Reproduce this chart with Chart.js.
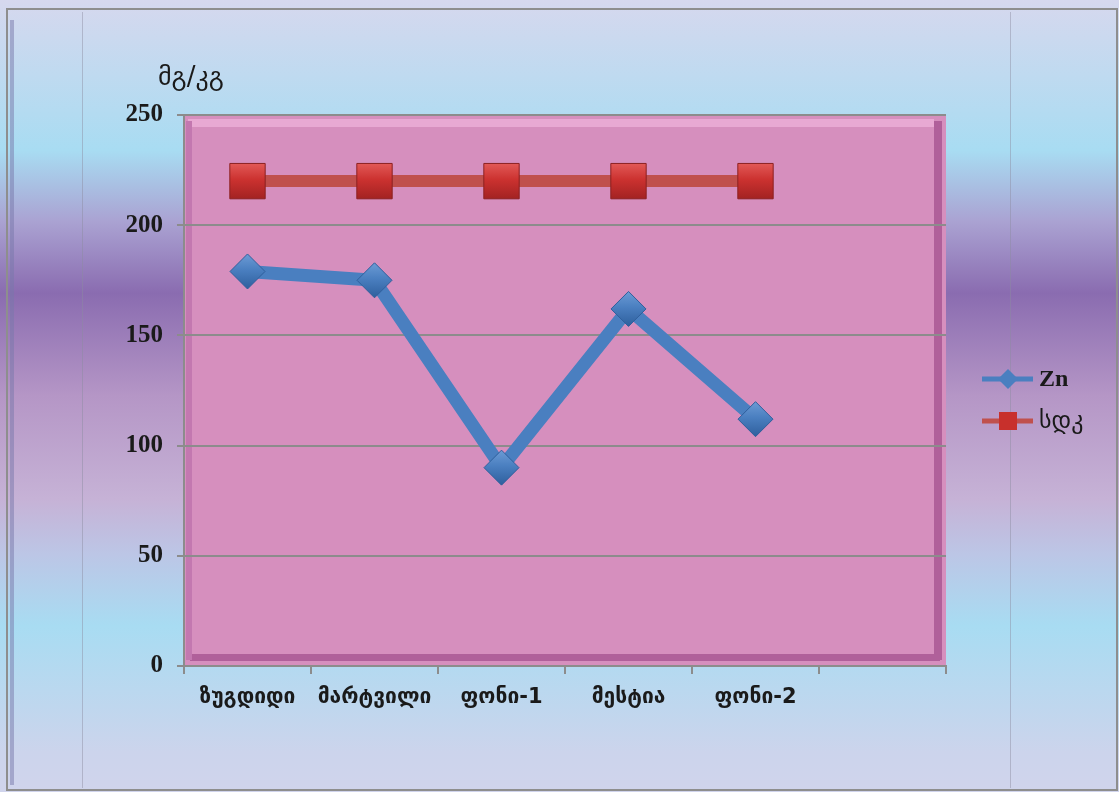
<!DOCTYPE html>
<html>
<head>
<meta charset="utf-8">
<script src="https://cdn.jsdelivr.net/npm/chart.js@4"></script>
<style>
  html, body { margin: 0; padding: 0; background: #fff; }
  #wrap { width: 1119px; height: 792px; position: relative; }
</style>
</head>
<body>
<div id="wrap"><canvas id="zincChart" width="1119" height="792"></canvas></div>
<script>
// data
const categories = ["ზუგდიდი", "მარტვილი", "ფონი-1", "მესტია", "ფონი-2", ""];
const znValues = [179, 175, 90, 162, 112, null];
const sdkValues = [220, 220, 220, 220, 220, null];
const yTicks = [0, 50, 100, 150, 200, 250];
const yUnit = "მგ/კგ";

const BLUE = "#4a7fc0";
const RED = "#c0504d";

// glossy fill for a marker, built from its pixel position on the y scale
function markerFill(light, mid, dark, half) {
  return ctx => {
    const chart = ctx.chart;
    const ys = chart.scales && chart.scales.y;
    if (!ys || ctx.raw == null || !isFinite(ys.getPixelForValue(ctx.raw))) return mid;
    const py = ys.getPixelForValue(ctx.raw);
    const g = chart.ctx.createLinearGradient(0, py - half, 0, py + half);
    g.addColorStop(0, light);
    g.addColorStop(0.45, mid);
    g.addColorStop(1, dark);
    return g;
  };
}

// background, frame and plot area
const backdrop = {
  id: "backdrop",
  beforeDraw(chart) {
    const { ctx, chartArea: a, width, height } = chart;
    ctx.save();
    const g = ctx.createLinearGradient(0, 0, 0, height);
    g.addColorStop(0, "#d6d8ee");
    g.addColorStop(0.19, "#a8dcf2");
    g.addColorStop(0.28, "#aaa2d2");
    g.addColorStop(0.37, "#8a6cb0");
    g.addColorStop(0.5, "#b596c6");
    g.addColorStop(0.63, "#c6b2d6");
    g.addColorStop(0.7, "#bcc6e6");
    g.addColorStop(0.79, "#a8dcf2");
    g.addColorStop(0.95, "#ccd4ec");
    g.addColorStop(1, "#d0d4ec");
    ctx.fillStyle = g;
    ctx.fillRect(0, 0, width, height);

    // faint vertical lines
    ctx.strokeStyle = "rgba(140,140,160,0.45)";
    ctx.lineWidth = 1;
    [82, 1010].forEach(x => {
      ctx.beginPath(); ctx.moveTo(x + 0.5, 12); ctx.lineTo(x + 0.5, 788); ctx.stroke();
    });

    // outer frame
    ctx.strokeStyle = "#8e8e8e";
    ctx.lineWidth = 2;
    ctx.strokeRect(7, 9, 1110, 781);
    ctx.strokeStyle = "rgba(120,120,170,0.5)";
    ctx.lineWidth = 4;
    ctx.beginPath(); ctx.moveTo(12, 20); ctx.lineTo(12, 785); ctx.stroke();

    // plot area
    ctx.fillStyle = "#d68fbe";
    ctx.fillRect(a.left, a.top, a.right - a.left, a.bottom - a.top);
    ctx.fillStyle = "rgba(240,180,220,0.7)";
    ctx.fillRect(a.left + 4, a.top + 4, a.right - a.left - 16, 8);
    ctx.fillStyle = "#b0609a";
    ctx.fillRect(a.right - 12, a.top + 6, 8, a.bottom - a.top - 12);
    ctx.fillRect(a.left + 6, a.bottom - 12, a.right - a.left - 12, 7);
    ctx.fillStyle = "#c378b0";
    ctx.fillRect(a.left + 2, a.top + 6, 6, a.bottom - a.top - 12);
    ctx.restore();
  },
  afterDraw(chart) {
    const { ctx } = chart;
    ctx.save();
    // unit label
    ctx.fillStyle = "#1a1a1a";
    ctx.font = "26px 'DejaVu Sans'";
    ctx.textBaseline = "alphabetic";
    ctx.fillText(yUnit, 158, 85);

    // legend
    const items = [
      { label: "Zn", color: BLUE, style: "diamond", y: 379, font: "bold 24px 'Liberation Serif'" },
      { label: "სდკ", color: RED, style: "square", y: 421, font: "24px 'DejaVu Sans'" }
    ];
    items.forEach(it => {
      ctx.strokeStyle = it.color;
      ctx.lineWidth = 5;
      ctx.beginPath(); ctx.moveTo(982, it.y); ctx.lineTo(1033, it.y); ctx.stroke();
      ctx.fillStyle = it.style === "diamond" ? BLUE : "#c8302c";
      ctx.beginPath();
      if (it.style === "diamond") {
        ctx.moveTo(1008, it.y - 10); ctx.lineTo(1018, it.y); ctx.lineTo(1008, it.y + 10); ctx.lineTo(998, it.y);
      } else {
        ctx.rect(999, it.y - 9, 18, 18);
      }
      ctx.closePath(); ctx.fill();
      ctx.fillStyle = "#1a1a1a";
      ctx.font = it.font;
      ctx.textBaseline = "middle";
      ctx.fillText(it.label, 1039, it.y + 1);
    });
    ctx.restore();
  }
};

new Chart(document.getElementById("zincChart"), {
  type: "line",
  data: {
    labels: categories,
    datasets: [
      {
        label: "Zn",
        data: znValues,
        borderColor: BLUE,
        borderWidth: 13,
        backgroundColor: BLUE,
        pointStyle: "rectRot",
        pointRadius: 17.5,
        pointBackgroundColor: markerFill("#6b9ad4", "#4a7fc0", "#2f609e", 17),
        pointBorderColor: "#2f5f9c",
        pointBorderWidth: 1,
        tension: 0
      },
      {
        label: "სდკ",
        data: sdkValues,
        borderColor: RED,
        borderWidth: 12,
        backgroundColor: RED,
        pointStyle: "rect",
        pointRadius: 25,
        pointBackgroundColor: markerFill("#e25a58", "#cc3230", "#a22222", 18),
        pointBorderColor: "#8c2020",
        pointBorderWidth: 1,
        tension: 0
      }
    ]
  },
  options: {
    responsive: false,
    animation: false,
    layout: { padding: { left: 0, top: 115, right: 173, bottom: 0 } },
    plugins: { legend: { display: false }, tooltip: { enabled: false } },
    scales: {
      x: {
        offset: true,
        grid: { offset: true, drawOnChartArea: false, color: "#8c8c8c", lineWidth: 2, tickLength: 8 },
        border: { color: "#8c8c8c", width: 2 },
        ticks: { color: "#1a1a1a", font: { family: "DejaVu Sans", size: 21, weight: "bold" }, padding: 11, maxRotation: 0, autoSkip: false },
        afterFit: s => { s.height = 126; }
      },
      y: {
        min: yTicks[0],
        max: yTicks[yTicks.length - 1],
        afterBuildTicks: s => { s.ticks = yTicks.map(v => ({ value: v })); },
        grid: { color: "#8c8c8c", lineWidth: 2, tickLength: 7 },
        border: { color: "#8c8c8c", width: 2 },
        ticks: { color: "#1a1a1a", font: { family: "Liberation Serif", size: 25, weight: "bold" }, padding: 14 },
        afterFit: s => { s.width = 184; }
      }
    }
  },
  plugins: [backdrop]
});
</script>
</body>
</html>
